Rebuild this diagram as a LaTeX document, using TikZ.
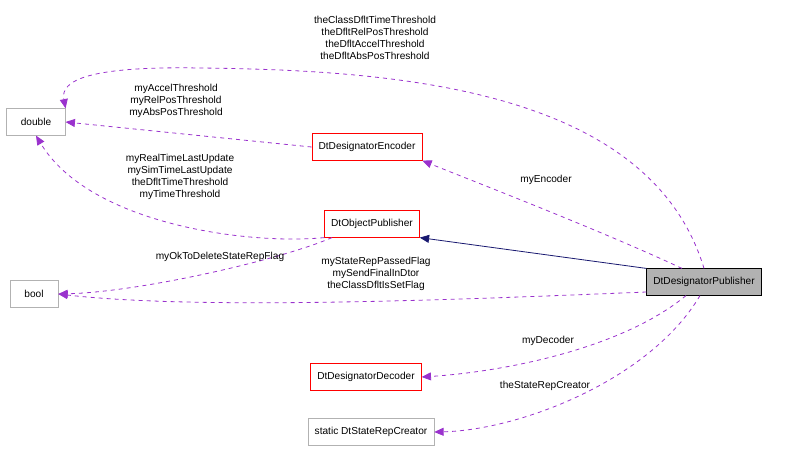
\documentclass[tikz,border=0pt]{standalone}
\usepackage{fontspec}
\setmainfont{Liberation Sans}
\usetikzlibrary{arrows.meta,calc}
\definecolor{orchid}{HTML}{9A32CD}
\definecolor{navy}{HTML}{191970}
\tikzset{
  cls/.style={draw,rectangle,minimum height=20pt,inner xsep=5pt,font=\fontsize{7.6}{9}\selectfont},
  redcls/.style={cls,draw=red},
  graycls/.style={cls,draw=black!30},
  use/.style={dashed,draw=orchid,line width=0.6pt,-{Triangle[fill=orchid,length=7pt,width=6pt]}},
  lbl/.style={font=\fontsize{7.6}{9}\selectfont,align=center,inner sep=0pt}
}
\begin{document}
\begin{tikzpicture}[x=0.75pt,y=-0.75pt]
\useasboundingbox (0,0) rectangle (789,451);
\node[graycls,minimum width=44pt] (dbl) at (36,122) {double};
\node[redcls] (enc) at (367,147) {DtDesignatorEncoder};
\node[redcls] (obj) at (372,224) {DtObjectPublisher};
\node[graycls,minimum width=36pt] (bool) at (34,294) {bool};
\node[cls,fill=black!30] (pub) at (704,282) {DtDesignatorPublisher};
\node[redcls] (dec) at (366,377) {DtDesignatorDecoder};
\node[graycls] (crt) at (371,432) {static DtStateRepCreator};
% inheritance
\draw[navy,line width=0.6pt,-{Triangle[fill=navy,length=7pt,width=6pt]}] (pub.north west) -- (obj.south east);
% members
\draw[use] (pub.north) .. controls (650,90) and (400,70) .. (200,68) .. controls (90,66) and (60,80) .. (dbl.north east);
\draw[use] (enc.west) -- (dbl.east);
\draw[use] (obj.south west) .. controls (250,245) and (90,225) .. (dbl.south);
\draw[use] (obj.south) ++(-40,0) coordinate (o1) (o1) .. controls (280,260) and (140,292) .. (bool.east);
\draw[use] (pub.west |- 0,292) coordinate (p1) (p1) .. controls (450,300) and (200,310) .. (bool.east);
\draw[use] ($(pub.north)+(-22,0)$) coordinate (p2) (p2) .. controls (600,230) and (470,180) .. (enc.south east);
\draw[use] ($(pub.south)+(-18,0)$) coordinate (p3) (p3) .. controls (620,350) and (500,372) .. (dec.east);
\draw[use] ($(pub.south)+(-4,0)$) coordinate (p4) (p4) .. controls (650,380) and (520,430) .. (crt.east);
% labels
\node[lbl] at (375,38) {theClassDfltTimeThreshold\\theDfltRelPosThreshold\\theDfltAccelThreshold\\theDfltAbsPosThreshold};
\node[lbl] at (176,101) {myAccelThreshold\\myRelPosThreshold\\myAbsPosThreshold};
\node[lbl] at (180,177) {myRealTimeLastUpdate\\mySimTimeLastUpdate\\theDfltTimeThreshold\\myTimeThreshold};
\node[lbl] at (220,257) {myOkToDeleteStateRepFlag};
\node[lbl] at (376,274) {myStateRepPassedFlag\\mySendFinalInDtor\\theClassDfltIsSetFlag};
\node[lbl] at (546,180) {myEncoder};
\node[lbl] at (548,341) {myDecoder};
\node[lbl] at (545,386) {theStateRepCreator};
\end{tikzpicture}
\end{document}
